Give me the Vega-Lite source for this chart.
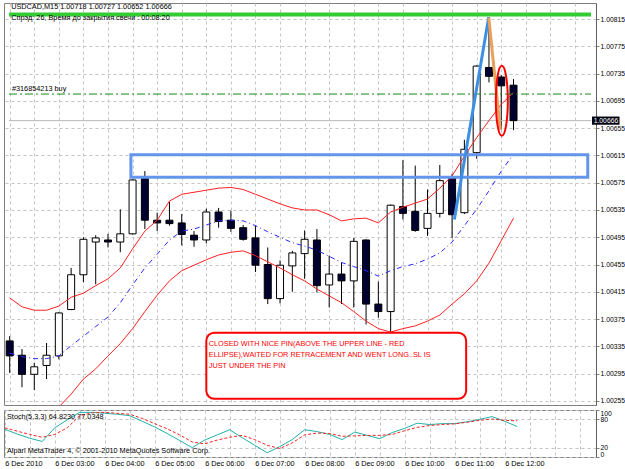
{
  "$schema": "https://vega.github.io/schema/vega-lite/v6.json",
  "background": "white",
  "padding": {"left": 2, "top": 2, "right": 0, "bottom": 0},
  "spacing": 3,
  "config": {
    "view": {"stroke": "#808080", "strokeWidth": 1},
    "axis": {"labelFont": "Liberation Sans", "labelFontSize": 7.3, "labelColor": "#000000", "labelOverlap": false, "gridColor": "#c4c4c4", "gridDash": [3, 3], "gridWidth": 1, "domainColor": "#808080", "tickColor": "#808080", "tickSize": 3},
    "axisRight": {"labelOverlap": false, "labelFontSize": 6.8},
    "text": {"font": "Liberation Sans", "fontSize": 7.3}
  },
  "resolve": {"scale": {"x": "independent", "y": "independent"}},
  "datasets": {
    "bars": [
      {"t": 2.0, "o": 1.00343, "h": 1.0035, "l": 1.00296, "c": 1.00321, "up": 1.00406, "mid": 1.00325, "lo": 1.00243, "k": 59, "d": 62},
      {"t": 2.25, "o": 1.00322, "h": 1.00331, "l": 1.00275, "c": 1.00294, "up": 1.00393, "mid": 1.0032, "lo": 1.00245, "k": 49, "d": 55},
      {"t": 2.5, "o": 1.00294, "h": 1.00311, "l": 1.00271, "c": 1.00305, "up": 1.00388, "mid": 1.00317, "lo": 1.00243, "k": 40, "d": 48},
      {"t": 2.75, "o": 1.00307, "h": 1.0034, "l": 1.00287, "c": 1.00322, "up": 1.00388, "mid": 1.00317, "lo": 1.00245, "k": 33, "d": 42},
      {"t": 3.0, "o": 1.00321, "h": 1.00385, "l": 1.00316, "c": 1.00384, "up": 1.00394, "mid": 1.00321, "lo": 1.00246, "k": 62, "d": 48},
      {"t": 3.25, "o": 1.00389, "h": 1.0045, "l": 1.00388, "c": 1.0044, "up": 1.00407, "mid": 1.00336, "lo": 1.00265, "k": 79, "d": 62},
      {"t": 3.5, "o": 1.0044, "h": 1.00495, "l": 1.00429, "c": 1.00492, "up": 1.00413, "mid": 1.0035, "lo": 1.00287, "k": 95, "d": 88},
      {"t": 3.75, "o": 1.00488, "h": 1.00498, "l": 1.00426, "c": 1.00494, "up": 1.00424, "mid": 1.00364, "lo": 1.00302, "k": 95, "d": 94},
      {"t": 4.0, "o": 1.00491, "h": 1.005, "l": 1.0048, "c": 1.00488, "up": 1.00434, "mid": 1.00378, "lo": 1.00321, "k": 93, "d": 95},
      {"t": 4.25, "o": 1.00488, "h": 1.00536, "l": 1.00473, "c": 1.005, "up": 1.0045, "mid": 1.00399, "lo": 1.00339, "k": 91, "d": 93},
      {"t": 4.5, "o": 1.005, "h": 1.0058, "l": 1.00499, "c": 1.00579, "up": 1.00478, "mid": 1.00425, "lo": 1.00361, "k": 88, "d": 91},
      {"t": 4.75, "o": 1.00581, "h": 1.00592, "l": 1.00507, "c": 1.0052, "up": 1.00504, "mid": 1.0045, "lo": 1.00386, "k": 76, "d": 82},
      {"t": 5.0, "o": 1.0052, "h": 1.00531, "l": 1.00504, "c": 1.00516, "up": 1.0052, "mid": 1.0047, "lo": 1.0041, "k": 64, "d": 71},
      {"t": 5.25, "o": 1.0052, "h": 1.00547, "l": 1.00512, "c": 1.00515, "up": 1.00548, "mid": 1.00491, "lo": 1.00431, "k": 50, "d": 60},
      {"t": 5.5, "o": 1.00516, "h": 1.00529, "l": 1.00483, "c": 1.00499, "up": 1.00558, "mid": 1.00504, "lo": 1.00446, "k": 35, "d": 47},
      {"t": 5.75, "o": 1.00498, "h": 1.00504, "l": 1.00481, "c": 1.00491, "up": 1.00561, "mid": 1.00507, "lo": 1.00454, "k": 20, "d": 32},
      {"t": 6.0, "o": 1.00491, "h": 1.00537, "l": 1.00486, "c": 1.00532, "up": 1.00564, "mid": 1.00513, "lo": 1.00462, "k": 36, "d": 28},
      {"t": 6.25, "o": 1.00532, "h": 1.00538, "l": 1.00509, "c": 1.00518, "up": 1.00567, "mid": 1.00519, "lo": 1.00469, "k": 47, "d": 36},
      {"t": 6.5, "o": 1.0052, "h": 1.00534, "l": 1.00503, "c": 1.00508, "up": 1.00568, "mid": 1.0052, "lo": 1.00473, "k": 58, "d": 42},
      {"t": 6.75, "o": 1.00509, "h": 1.00513, "l": 1.0049, "c": 1.00492, "up": 1.00565, "mid": 1.00519, "lo": 1.00475, "k": 41, "d": 46},
      {"t": 7.0, "o": 1.00494, "h": 1.00512, "l": 1.00444, "c": 1.00454, "up": 1.00558, "mid": 1.00512, "lo": 1.00468, "k": 25, "d": 37},
      {"t": 7.25, "o": 1.00455, "h": 1.0048, "l": 1.00397, "c": 1.00405, "up": 1.00551, "mid": 1.00503, "lo": 1.00459, "k": 9, "d": 25},
      {"t": 7.5, "o": 1.00405, "h": 1.00461, "l": 1.00398, "c": 1.00454, "up": 1.00544, "mid": 1.00495, "lo": 1.0045, "k": 22, "d": 18},
      {"t": 7.75, "o": 1.00453, "h": 1.00475, "l": 1.00415, "c": 1.00472, "up": 1.00538, "mid": 1.00487, "lo": 1.0044, "k": 37, "d": 30},
      {"t": 8.0, "o": 1.00471, "h": 1.00505, "l": 1.00434, "c": 1.00492, "up": 1.00535, "mid": 1.00482, "lo": 1.00431, "k": 58, "d": 47},
      {"t": 8.25, "o": 1.00491, "h": 1.00507, "l": 1.00414, "c": 1.00424, "up": 1.00535, "mid": 1.00476, "lo": 1.00419, "k": 54, "d": 51},
      {"t": 8.5, "o": 1.00425, "h": 1.00468, "l": 1.00392, "c": 1.00441, "up": 1.00528, "mid": 1.00467, "lo": 1.00409, "k": 48, "d": 50},
      {"t": 8.75, "o": 1.00441, "h": 1.00458, "l": 1.00397, "c": 1.00431, "up": 1.00519, "mid": 1.00458, "lo": 1.00399, "k": 37, "d": 44},
      {"t": 9.0, "o": 1.00431, "h": 1.00494, "l": 1.00392, "c": 1.00489, "up": 1.00522, "mid": 1.00452, "lo": 1.00386, "k": 53, "d": 45},
      {"t": 9.25, "o": 1.00491, "h": 1.00492, "l": 1.00367, "c": 1.00397, "up": 1.00523, "mid": 1.00446, "lo": 1.00372, "k": 46, "d": 46},
      {"t": 9.5, "o": 1.00397, "h": 1.0043, "l": 1.00377, "c": 1.00386, "up": 1.00516, "mid": 1.00438, "lo": 1.00361, "k": 39, "d": 46},
      {"t": 9.75, "o": 1.00386, "h": 1.00543, "l": 1.00355, "c": 1.00542, "up": 1.00532, "mid": 1.00446, "lo": 1.00356, "k": 52, "d": 48},
      {"t": 10.0, "o": 1.0054, "h": 1.00608, "l": 1.00521, "c": 1.0053, "up": 1.00539, "mid": 1.00452, "lo": 1.00361, "k": 61, "d": 56},
      {"t": 10.25, "o": 1.00533, "h": 1.006, "l": 1.00503, "c": 1.00505, "up": 1.00545, "mid": 1.00456, "lo": 1.00365, "k": 72, "d": 63},
      {"t": 10.5, "o": 1.00508, "h": 1.00565, "l": 1.00497, "c": 1.0053, "up": 1.00551, "mid": 1.00463, "lo": 1.00372, "k": 69, "d": 67},
      {"t": 10.75, "o": 1.0053, "h": 1.00601, "l": 1.00524, "c": 1.00578, "up": 1.00567, "mid": 1.00472, "lo": 1.00381, "k": 71, "d": 69},
      {"t": 11.0, "o": 1.00582, "h": 1.00588, "l": 1.00494, "c": 1.00528, "up": 1.00585, "mid": 1.00488, "lo": 1.00397, "k": 71, "d": 70.5},
      {"t": 11.25, "o": 1.00531, "h": 1.00638, "l": 1.00529, "c": 1.00624, "up": 1.00614, "mid": 1.00512, "lo": 1.00412, "k": 75, "d": 74},
      {"t": 11.5, "o": 1.00619, "h": 1.00747, "l": 1.0061, "c": 1.00746, "up": 1.00641, "mid": 1.00536, "lo": 1.00431, "k": 80, "d": 78},
      {"t": 11.75, "o": 1.00744, "h": 1.00816, "l": 1.00722, "c": 1.00731, "up": 1.00666, "mid": 1.00563, "lo": 1.00457, "k": 86, "d": 81},
      {"t": 12.0, "o": 1.0073, "h": 1.00733, "l": 1.00653, "c": 1.00717, "up": 1.0069, "mid": 1.00592, "lo": 1.0049, "k": 76, "d": 78},
      {"t": 12.25, "o": 1.00718, "h": 1.00727, "l": 1.00652, "c": 1.00666, "up": 1.00707, "mid": 1.00617, "lo": 1.00523, "k": 64.823, "d": 77.0348}
    ]
  },
  "vconcat": [
    {
      "width": 592,
      "height": 402,
      "encoding": {
        "x": {"field": "t", "type": "quantitative", "scale": {"domain": [1.986, 13.826], "nice": false, "zero": false},
          "axis": {"values": [2, 2.5, 3, 3.5, 4, 4.5, 5, 5.5, 6, 6.5, 7, 7.5, 8, 8.5, 9, 9.5, 10, 10.5, 11, 11.5, 12, 12.5, 13, 13.5], "tickCount": 200, "labels": false, "ticks": false, "domain": false, "grid": true, "title": null}}
      },
      "layer": [
        {
          "data": {"name": "bars"},
          "mark": {"type": "rule", "color": "#000000", "strokeWidth": 1, "clip": true},
          "encoding": {
            "y": {"field": "l", "type": "quantitative", "scale": {"domain": [1.00249, 1.008385], "nice": false, "zero": false}, "title": null,
              "axis": {"orient": "right", "values": [1.00255, 1.00295, 1.00335, 1.00375, 1.00415, 1.00455, 1.00495, 1.00535, 1.00575, 1.00615, 1.00655, 1.00695, 1.00735, 1.00775, 1.00815], "tickCount": 200, "format": ".5f", "grid": true, "labelPadding": 1, "labelFontSize": 6.8, "labelOverlap": false, "title": null, "domainColor": "#606060"}},
            "y2": {"field": "h"}
          }
        },
        {
          "data": {"values": [{"t": 1.986, "t2": 13.826, "p": 1.00666}]},
          "mark": {"type": "rule", "color": "#b8b8b8", "strokeWidth": 1},
          "encoding": {
            "x2": {"field": "t2"},
            "y": {"field": "p", "type": "quantitative", "scale": {"domain": [1.00249, 1.008385], "nice": false, "zero": false}, "title": null}
          }
        },
        {
          "data": {"name": "bars"},
          "mark": {"type": "bar", "size": 7, "stroke": "#000000", "strokeWidth": 1, "clip": true},
          "encoding": {
            "y": {"field": "o", "type": "quantitative", "scale": {"domain": [1.00249, 1.008385], "nice": false, "zero": false}, "title": null},
            "y2": {"field": "c"},
            "fill": {"condition": {"test": "datum.c >= datum.o", "value": "#ffffff"}, "value": "#000030"}
          }
        },
        {
          "data": {"name": "bars"},
          "mark": {"type": "line", "color": "#ff2020", "strokeWidth": 1, "clip": true},
          "encoding": {"y": {"field": "up", "type": "quantitative", "scale": {"domain": [1.00249, 1.008385], "nice": false, "zero": false}, "title": null}}
        },
        {
          "data": {"name": "bars"},
          "mark": {"type": "line", "color": "#ff2020", "strokeWidth": 1, "clip": true},
          "encoding": {"y": {"field": "lo", "type": "quantitative", "scale": {"domain": [1.00249, 1.008385], "nice": false, "zero": false}, "title": null}}
        },
        {
          "data": {"name": "bars"},
          "mark": {"type": "line", "color": "#2a2aff", "strokeWidth": 1, "strokeDash": [5, 3, 1, 3], "clip": true},
          "encoding": {"y": {"field": "mid", "type": "quantitative", "scale": {"domain": [1.00249, 1.008385], "nice": false, "zero": false}, "title": null}}
        },
        {
          "data": {"values": [{"t": 1.986, "t2": 13.826, "p": 1.00705}]},
          "mark": {"type": "rule", "color": "#1a8a1a", "strokeWidth": 1, "strokeDash": [8, 3, 2, 3]},
          "encoding": {
            "x2": {"field": "t2"},
            "y": {"field": "p", "type": "quantitative", "scale": {"domain": [1.00249, 1.008385], "nice": false, "zero": false}, "title": null}
          }
        },
        {
          "data": {"values": [{"t": 1.986, "t2": 13.826, "p": 1.008216}]},
          "mark": {"type": "rule", "color": "#33cc33", "strokeWidth": 4},
          "encoding": {
            "x2": {"field": "t2"},
            "y": {"field": "p", "type": "quantitative", "scale": {"domain": [1.00249, 1.008385], "nice": false, "zero": false}, "title": null}
          }
        },
        {
          "data": {"values": [{"t": 4.466, "t2": 13.76, "p": 1.00616, "p2": 1.00583}]},
          "mark": {"type": "rect", "fill": "transparent", "stroke": "#6495ed", "strokeWidth": 3},
          "encoding": {
            "x2": {"field": "t2"},
            "y": {"field": "p", "type": "quantitative", "scale": {"domain": [1.00249, 1.008385], "nice": false, "zero": false}, "title": null},
            "y2": {"field": "p2"}
          }
        },
        {
          "data": {"values": [{"t": 11.046, "p": 1.00521}, {"t": 11.746, "p": 1.00818}]},
          "mark": {"type": "line", "color": "#3c8fe3", "strokeWidth": 3},
          "encoding": {"y": {"field": "p", "type": "quantitative", "scale": {"domain": [1.00249, 1.008385], "nice": false, "zero": false}, "title": null}}
        },
        {
          "data": {"values": [{"t": 11.746, "p": 1.00817}, {"t": 11.98, "p": 1.00653}]},
          "mark": {"type": "line", "color": "#e8a05c", "strokeWidth": 3},
          "encoding": {"y": {"field": "p", "type": "quantitative", "scale": {"domain": [1.00249, 1.008385], "nice": false, "zero": false}, "title": null}}
        },
        {
          "data": {"values": [{"t": 12.012, "p": 1.00695}]},
          "mark": {"type": "point", "shape": "M0,-1 C0.0947,-1 0.1714,-0.5523 0.1714,0 C0.1714,0.5523 0.0947,1 0,1 C-0.0947,1 -0.1714,0.5523 -0.1714,0 C-0.1714,-0.5523 -0.0947,-1 0,-1 Z", "size": 4900, "filled": false, "stroke": "#ff0000", "strokeWidth": 2, "opacity": 1},
          "encoding": {"y": {"field": "p", "type": "quantitative", "scale": {"domain": [1.00249, 1.008385], "nice": false, "zero": false}, "title": null}}
        },
        {
          "data": {"values": [{"t": 6.0, "t2": 11.286, "p": 1.00355, "p2": 1.00258}]},
          "mark": {"type": "rect", "fill": "#ffffff", "stroke": "#ff0000", "strokeWidth": 2, "cornerRadius": 8},
          "encoding": {
            "x2": {"field": "t2"},
            "y": {"field": "p", "type": "quantitative", "scale": {"domain": [1.00249, 1.008385], "nice": false, "zero": false}, "title": null},
            "y2": {"field": "p2"}
          }
        },
        {
          "data": {"values": [
            {"t": 6.05, "p": 1.00339, "txt": "CLOSED WITH NICE PIN(ABOVE THE UPPER LINE - RED"},
            {"t": 6.05, "p": 1.00323, "txt": "ELLIPSE),WAITED FOR RETRACEMENT AND WENT LONG..SL IS"},
            {"t": 6.05, "p": 1.00306, "txt": "JUST UNDER THE PIN"}
          ]},
          "mark": {"type": "text", "align": "left", "baseline": "middle", "color": "#ff0000"},
          "encoding": {
            "y": {"field": "p", "type": "quantitative", "scale": {"domain": [1.00249, 1.008385], "nice": false, "zero": false}, "title": null},
            "text": {"field": "txt"}
          }
        },
        {
          "data": {"values": [
            {"t": 2.03, "p": 1.008326, "txt": "USDCAD,M15  1.00718 1.00727 1.00652 1.00666"},
            {"t": 2.03, "p": 1.00817, "txt": "Спрэд: 26, Время до закрытия свечи : 00:08:20"},
            {"t": 2.046, "p": 1.00712, "txt": "#316854213 buy"}
          ]},
          "mark": {"type": "text", "align": "left", "baseline": "middle", "color": "#000000"},
          "encoding": {
            "y": {"field": "p", "type": "quantitative", "scale": {"domain": [1.00249, 1.008385], "nice": false, "zero": false}, "title": null},
            "text": {"field": "txt"}
          }
        },
        {
          "data": {"values": [{"t": 13.846, "t2": 14.406, "p": 1.00672, "p2": 1.0066}]},
          "mark": {"type": "rect", "fill": "#000010"},
          "encoding": {
            "x2": {"field": "t2"},
            "y": {"field": "p", "type": "quantitative", "scale": {"domain": [1.00249, 1.008385], "nice": false, "zero": false}, "title": null},
            "y2": {"field": "p2"}
          }
        },
        {
          "data": {"values": [{"t": 13.88, "p": 1.00666, "txt": "1.00666"}]},
          "mark": {"type": "text", "align": "left", "baseline": "middle", "color": "#ffffff", "fontSize": 6.8},
          "encoding": {
            "y": {"field": "p", "type": "quantitative", "scale": {"domain": [1.00249, 1.008385], "nice": false, "zero": false}, "title": null},
            "text": {"field": "txt"}
          }
        }
      ]
    },
    {
      "width": 592,
      "height": 47,
      "encoding": {
        "x": {"field": "t", "type": "quantitative", "scale": {"domain": [1.986, 13.826], "nice": false, "zero": false},
          "axis": {"values": [2, 2.5, 3, 3.5, 4, 4.5, 5, 5.5, 6, 6.5, 7, 7.5, 8, 8.5, 9, 9.5, 10, 10.5, 11, 11.5, 12, 12.5, 13, 13.5], "tickCount": 200,
            "labelExpr": "datum.value % 1 == 0 && datum.value <= 12 ? (datum.value == 2 ? '6 Dec 2010' : '6 Dec ' + (datum.value < 10 ? '0' : '') + datum.value + ':00') : ''",
            "grid": true, "ticks": false, "domain": false, "labelAlign": "left", "labelPadding": 2, "labelOverlap": false, "labelFlush": false, "title": null}}
      },
      "layer": [
        {
          "data": {"name": "bars"},
          "mark": {"type": "line", "color": "#20b2aa", "strokeWidth": 1},
          "encoding": {
            "y": {"field": "k", "type": "quantitative", "scale": {"domain": [0, 100], "nice": false}, "title": null,
              "axis": {"orient": "right", "values": [0, 20, 80, 100], "tickCount": 200, "format": "d", "labelFlush": true, "labelOverlap": false, "labelFontSize": 6.8, "grid": true, "labelPadding": 1, "title": null, "domainColor": "#606060"}}
          }
        },
        {
          "data": {"name": "bars"},
          "mark": {"type": "line", "color": "#ff2020", "strokeWidth": 1, "strokeDash": [3, 2]},
          "encoding": {"y": {"field": "d", "type": "quantitative", "scale": {"domain": [0, 100], "nice": false}, "title": null}}
        },
        {
          "data": {"values": [
            {"t": 2.046, "v": 85, "txt": "Stoch(5,3,3) 64.8230 77.0348"},
            {"t": 2.046, "v": 13, "txt": "Alpari MetaTrader 4, © 2001-2010 MetaQuotes Software Corp."}
          ]},
          "mark": {"type": "text", "align": "left", "baseline": "middle", "color": "#000000"},
          "encoding": {
            "y": {"field": "v", "type": "quantitative", "scale": {"domain": [0, 100], "nice": false}, "title": null},
            "text": {"field": "txt"}
          }
        }
      ]
    }
  ]
}
